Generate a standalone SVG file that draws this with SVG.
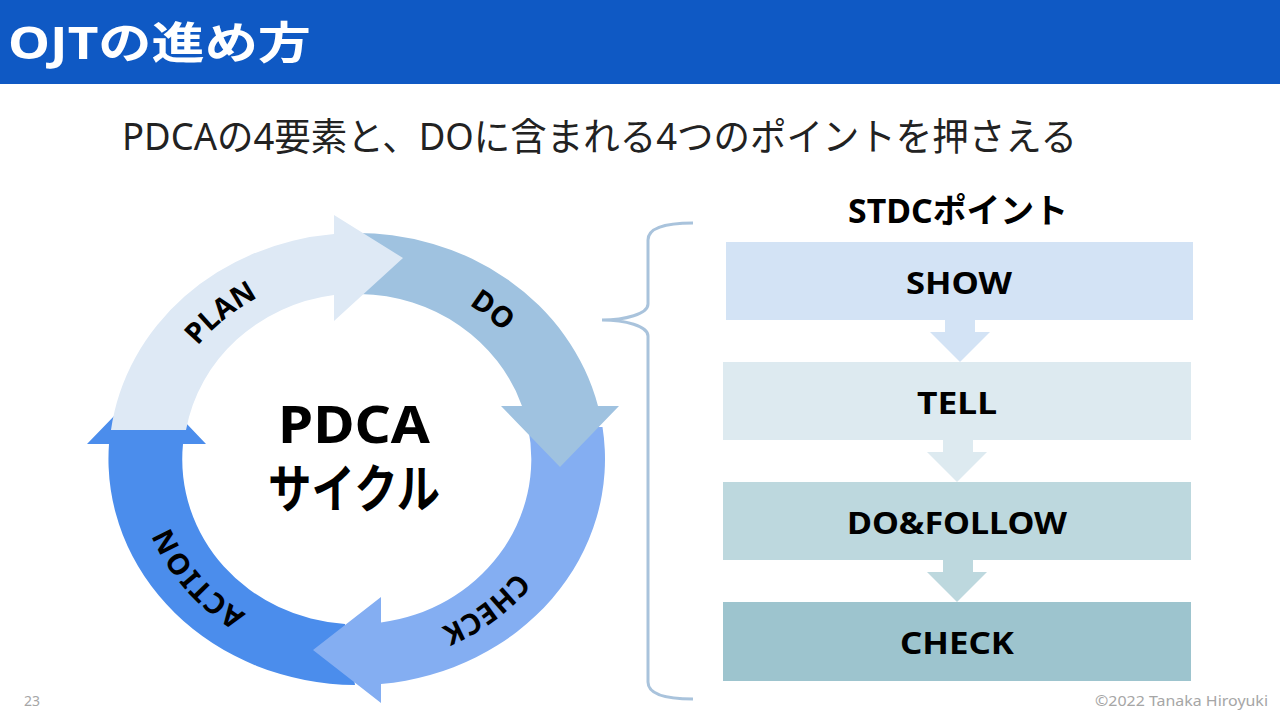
<svg xmlns="http://www.w3.org/2000/svg" width="1280" height="720" viewBox="0 0 1280 720">
<style>
text{font-family:"Noto Sans","Noto Sans CJK JP",sans-serif;fill:#000}
.b{font-weight:700}
.lbl{font-weight:700;font-size:30px;text-anchor:middle}
.ring{font-weight:700;font-size:29px;text-anchor:middle}
.foot{font-size:14px;fill:#a6a6a6}
</style>
<defs>
<path id="pPlan" d="M161.5 416A201 185.5 0 0 1 333.9 274.7"/>
<path id="pDo" d="M378 274.5A201 185.5 0 0 1 552 414"/>
<path id="pCheck" d="M554.6 492.8A201 185.5 0 0 1 355 644.5"/>
<path id="pAction" d="M322 641.7A201 185.5 0 0 1 156.5 446"/>
</defs>
<rect width="1280" height="720" fill="#fff"/>
<g id="header">
<rect width="1280" height="84" fill="#0f59c4"/>
<text class="b" x="8" y="59" font-size="44" style="fill:#fff" textLength="303" lengthAdjust="spacingAndGlyphs">OJTの進め方</text>
</g>
<text id="subtitle" x="122" y="150" font-size="38" style="fill:#222" textLength="955" lengthAdjust="spacingAndGlyphs">PDCAの4要素と、DOに含まれる4つのポイントを押さえる</text>
<g id="cycle">
<g id="action">
<path fill="#4b8dec" d="M355 685A248 226 0 0 1 109 444L87 444L147 382L206 444L183 444A174 165 0 0 0 345 624Z"/>
<text class="ring" style="letter-spacing:1px"><textPath href="#pAction" startOffset="50%">ACTION</textPath></text>
</g>
<g id="check">
<path fill="#84aef2" d="M602.5 427A248 226 0 0 1 381 684L381 703L313 650L381 597L381 622.5A174 165 0 0 0 528 427Z"/>
<text class="ring"><textPath href="#pCheck" startOffset="50%">CHECK</textPath></text>
</g>
<g id="do">
<path fill="#9fc2e0" d="M350 233A248 226 0 0 1 598 406L619 406L560 467L501 406L522 406A174 165 0 0 0 360 294Z"/>
<text class="ring"><textPath href="#pDo" startOffset="50%">DO</textPath></text>
</g>
<g id="plan">
<path fill="#dee9f5" d="M111 430A248 226 0 0 1 334 234L334 215L403 258L334 321L334 295A174 165 0 0 0 186 430Z"/>
<text class="ring"><textPath href="#pPlan" startOffset="50%">PLAN</textPath></text>
</g>
<g id="center">
<text class="b" x="354" y="443" font-size="52" text-anchor="middle" textLength="152" lengthAdjust="spacingAndGlyphs">PDCA</text>
<text class="b" x="354" y="508" font-size="52" text-anchor="middle" textLength="172" lengthAdjust="spacingAndGlyphs">サイクル</text>
</g>
</g>
<g id="connectors">
<path id="brace" fill="none" stroke="#a9c3dc" stroke-width="3" d="M693 223C665 223 648 228 648 240V304C648 314 625 320 602 320C625 320 648 326 648 336V682C648 694 665 699 693 699"/>
<path fill="#d3e3f5" d="M945 320H975V332H990L960 362L930 332H945Z"/>
<path fill="#ddeaf0" d="M943 440H973V452H987L957 482L927 452H943Z"/>
<path fill="#bdd8de" d="M943 560H973V572H987L957 602L927 572H943Z"/>
</g>
<text id="stdc" class="b" x="848" y="223" font-size="34" textLength="220" lengthAdjust="spacingAndGlyphs">STDCポイント</text>
<g id="show"><rect x="726" y="242" width="467" height="78" fill="#d3e3f5"/><text class="lbl" x="959" y="294" textLength="106" lengthAdjust="spacingAndGlyphs">SHOW</text></g>
<g id="tell"><rect x="723" y="362" width="468" height="78" fill="#ddeaf0"/><text class="lbl" x="957" y="414" textLength="80" lengthAdjust="spacingAndGlyphs">TELL</text></g>
<g id="dofollow"><rect x="723" y="482" width="468" height="78" fill="#bdd8de"/><text class="lbl" x="957" y="534" textLength="220" lengthAdjust="spacingAndGlyphs">DO&amp;FOLLOW</text></g>
<g id="checkbox"><rect x="723" y="602" width="468" height="79" fill="#9dc4ce"/><text class="lbl" x="957" y="654" textLength="114" lengthAdjust="spacingAndGlyphs">CHECK</text></g>
<text class="foot" x="24" y="706">23</text>
<text class="foot" x="1095" y="706" textLength="173" lengthAdjust="spacingAndGlyphs">©2022 Tanaka Hiroyuki</text>
</svg>
